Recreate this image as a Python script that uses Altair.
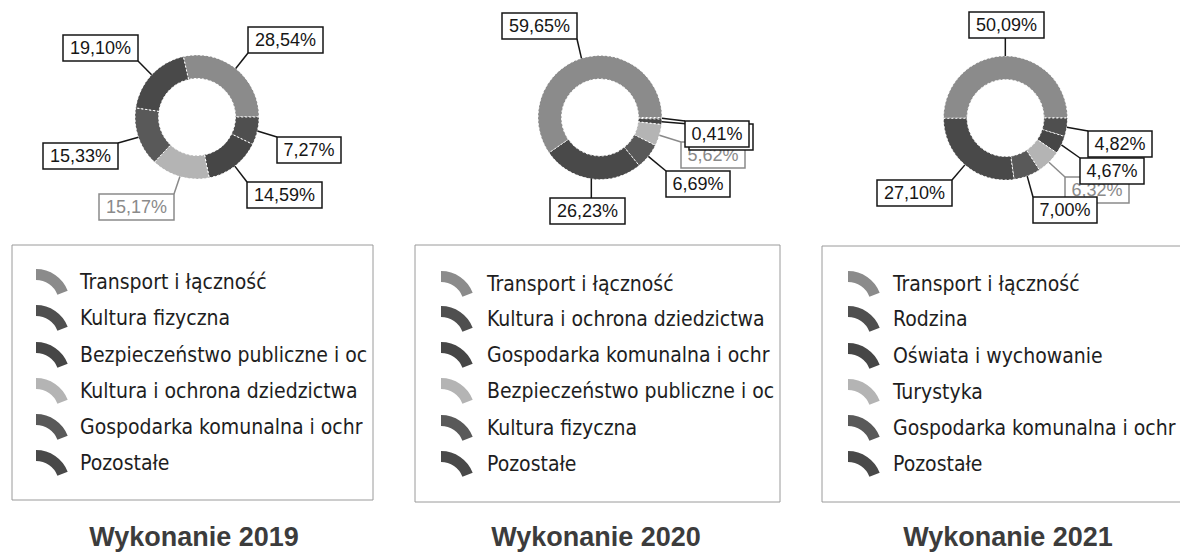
import math
import altair as alt
import pandas as pd

# ---------------- data ----------------
titles = ["Wykonanie 2019", "Wykonanie 2020", "Wykonanie 2021"]

cats_2019 = ["Transport i łączność", "Kultura fizyczna",
             "Bezpieczeństwo publiczne i ochrona przeciwpożarowa",
             "Kultura i ochrona dziedzictwa narodowego",
             "Gospodarka komunalna i ochrona środowiska", "Pozostałe"]
vals_2019 = [28.54, 7.27, 14.59, 15.17, 15.33, 19.10]

cats_2020 = ["Transport i łączność", "Kultura i ochrona dziedzictwa narodowego",
             "Gospodarka komunalna i ochrona środowiska",
             "Bezpieczeństwo publiczne i ochrona przeciwpożarowa",
             "Kultura fizyczna", "Pozostałe"]
vals_2020 = [59.65, 0.41, 1.40, 5.62, 6.69, 26.23]

cats_2021 = ["Transport i łączność", "Rodzina", "Oświata i wychowanie", "Turystyka",
             "Gospodarka komunalna i ochrona środowiska", "Pozostałe"]
vals_2021 = [50.09, 4.82, 4.67, 6.32, 7.00, 27.10]

cats = [cats_2019, cats_2020, cats_2021]
vals = [vals_2019, vals_2020, vals_2021]

# labels hidden in the reference (covered by another box)
hidden_labels = [[], [2], []]

# ---------------- styles / layout ----------------
shades = ["#8b8b8b", "#4f4f4f", "#464646", "#b4b4b4", "#595959", "#494949"]
label_ink = ["#161616", "#161616", "#161616", "#8a8a8a", "#161616", "#161616"]

centers = [(197, 117), (600, 117.5), (1005.5, 118)]
R_OUT, R_IN = 62, 38.5

# label boxes: (left, top) in page pixels
label_boxes = [
    [(248, 27), (277, 137), (247, 182), (99, 194), (43, 143), (63, 35)],
    [(502, 13), (685, 121), (689, 124), (681, 142), (666, 171), (550, 198)],
    [(969, 12), (1088, 131), (1080, 158), (1065, 177), (1033, 197), (877, 180)],
]
label_z = [[0, 0, 0, 0, 0, 0], [0, 2, 1, 0, 0, 0], [0, 0, 2, 0, 1, 0]]
BOX_H = 26

legend_boxes = [(12, 245, 373, 500), (415, 245, 780, 502), (822, 246, 1183, 502)]
legend_text_x = [80, 487, 893]
legend_icon_x = [35, 440, 847]
legend_rows = [[283, 319, 356, 392, 428, 464],
               [285, 320, 356, 392, 429, 465],
               [285, 320, 357, 393, 429, 465]]
title_pos = [(194, 546), (596, 546), (1008, 546)]

W, H = 1172, 546
OX, OY = 8, 8

# ---------------- tables ----------------
arc_tables = []
label_rows = []
legend_rows_data = []
box_rows = []
title_rows = []
for y in range(3):
    vs = vals[y]
    total = sum(vs)
    cx, cy = centers[y]
    a0 = math.pi / 2 - 2 * math.pi * vs[0] / total
    arc_tables.append(pd.DataFrame({
        "cat": cats[y], "v": vs, "idx": list(range(6)), "col": shades,
    }))
    acc = 0.0
    for i, v in enumerate(vs):
        mid = a0 + 2 * math.pi * (acc + v / 2) / total
        acc += v
        sx = cx + R_OUT * math.sin(mid)
        sy = cy - R_OUT * math.cos(mid)
        full = f"{v:.2f}".replace(".", ",") + "%"
        txt = "" if i in hidden_labels[y] else full
        bw = 75 if len(full) >= 6 else 64
        L, T = label_boxes[y][i]
        R, B = L + bw, T + BOX_H
        ex = min(max(sx, L), R)
        ey = min(max(sy, T), B)
        label_rows.append(dict(txt=txt, L=L, T=T, R=R, B=B, tx=(L + R) / 2, ty=(T + B) / 2 + 0.5,
                               sx=sx, sy=sy, ex=ex, ey=ey, ink=label_ink[i], z=label_z[y][i]))
    for i in range(6):
        ry = legend_rows[y][i]
        legend_rows_data.append(dict(cat=cats[y][i], tx=legend_text_x[y], ty=ry,
                                     ix=legend_icon_x[y] + 1, iy=ry + 20, col=shades[i]))
    L, T, R, B = legend_boxes[y]
    box_rows.append(dict(L=L, T=T, R=R, B=B))
    title_rows.append(dict(t=titles[y], x=title_pos[y][0], y=title_pos[y][1]))

labels = pd.DataFrame(label_rows)
legend = pd.DataFrame(legend_rows_data)
boxes = pd.DataFrame(box_rows)
tdf = pd.DataFrame(title_rows)

xs = alt.Scale(domain=[OX, OX + W], nice=False, zero=False)
ys = alt.Scale(domain=[OY, OY + H], nice=False, zero=False, reverse=True)


def X(f):
    return alt.X(f"{f}:Q", scale=xs, axis=None)


def Y(f):
    return alt.Y(f"{f}:Q", scale=ys, axis=None)


layers = []

# legend frames
layers.append(alt.Chart(boxes).mark_rect(fill="white", stroke="#9a9a9a", strokeWidth=1).encode(
    x=X("L"), x2="R:Q", y=Y("T"), y2="B:Q"))

# donuts
for y in range(3):
    cx, cy = centers[y]
    total = sum(vals[y])
    a0 = math.pi / 2 - 2 * math.pi * vals[y][0] / total
    layers.append(alt.Chart(arc_tables[y]).mark_arc(
        radius=R_OUT, radius2=R_IN, stroke="white", strokeWidth=1, strokeDash=[2, 2]
    ).encode(
        theta=alt.Theta("v:Q", stack=True,
                        scale=alt.Scale(domain=[0, total], range=[a0, a0 + 2 * math.pi], nice=False)),
        order=alt.Order("idx:Q"),
        color=alt.Color("col:N", scale=None),
        x=alt.value(cx - OX), y=alt.value(cy - OY),
    ))

# leader lines
layers.append(alt.Chart(labels).mark_rule(strokeWidth=1.5).encode(
    x=X("sx"), y=Y("sy"), x2="ex:Q", y2="ey:Q", color=alt.Color("ink:N", scale=None)))

# label boxes and texts, by z-level
for z in range(3):
    base = alt.Chart(labels).transform_filter(alt.datum.z == z)
    layers.append(base.mark_rect(fill="white", strokeWidth=1.5).encode(
        x=X("L"), x2="R:Q", y=Y("T"), y2="B:Q", stroke=alt.Stroke("ink:N", scale=None)))
    layers.append(base.mark_text(font="Liberation Sans", fontSize=18, baseline="middle",
                                 align="center").encode(
        x=X("tx"), y=Y("ty"), text="txt:N", color=alt.Color("ink:N", scale=None)))

# legend icons
layers.append(alt.Chart(legend).mark_arc(theta=0, theta2=1.2, radius=34, radius2=23).encode(
    x=X("ix"), y=Y("iy"), color=alt.Color("col:N", scale=None)))

# legend texts (clipped at the frame, as in the reference)
layers.append(alt.Chart(legend).mark_text(
    font="DejaVu Sans Condensed, DejaVu Sans", fontSize=21, align="left", baseline="middle",
    color="#1e1e1e", limit=291, ellipsis="\u200b").encode(
    x=X("tx"), y=Y("ty"), text="cat:N"))

# titles
layers.append(alt.Chart(tdf).mark_text(
    font="Liberation Sans", fontWeight="bold", fontSize=27, align="center",
    baseline="alphabetic", color="#3c3c3c").encode(
    x=X("x"), y=Y("y"), text="t:N"))

chart = alt.layer(*layers).resolve_scale(theta="independent").properties(
    width=W, height=H, padding=0, autosize=alt.AutoSizeParams(type="none")
).configure_view(stroke=None)

chart.save("out.html", embed_options={"renderer": "svg", "actions": False})
